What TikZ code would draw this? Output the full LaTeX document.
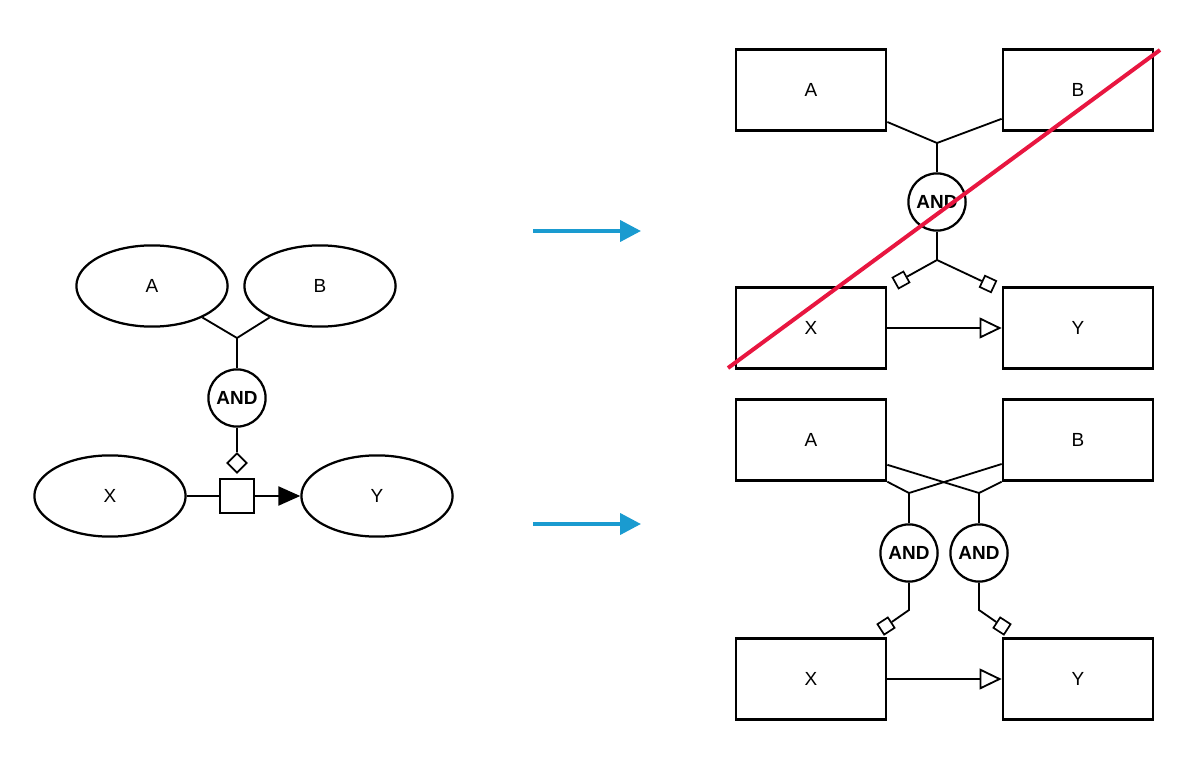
\documentclass[tikz,border=0pt]{standalone}
\usepackage{fontspec}
\setmainfont{Liberation Sans}
\usetikzlibrary{arrows.meta,shapes.geometric}
\definecolor{flowblue}{RGB}{26,155,208}
\definecolor{crossred}{RGB}{232,22,64}

\begin{document}
\begin{tikzpicture}[x=0.025cm, y=-0.025cm, every node/.style={font=\fontsize{13.5}{16}\selectfont},
  ent/.style={draw, ellipse, line width=1.6pt, minimum width=3.78cm, minimum height=2.03cm, inner sep=0pt},
  box/.style={draw, rectangle, line width=1.6pt, minimum width=3.76cm, minimum height=2.03cm},
  andgate/.style={draw, circle, line width=1.6pt, minimum size=1.43cm, inner sep=0pt, font=\fontsize{13.5}{16}\selectfont\bfseries},
  link/.style={line width=1.3pt},
  tinysq/.style={draw, rectangle, line width=1.2pt, fill=white, minimum size=0.31cm, inner sep=0pt},
  flow/.style={line width=0.1cm, flowblue, -{Triangle[length=0.52cm, width=0.52cm]}}]
  \useasboundingbox (0,0) rectangle (1200,767);

  % Left: ellipses
  \node[ent] (A0) at (152,286) {A};
  \node[ent] (B0) at (320,286) {B};
  \node[ent] (X0) at (110,496) {X};
  \node[ent] (Y0) at (377,496) {Y};
  \node[andgate] (and0) at (237,398) {AND};
  \node[draw, diamond, line width=1.2pt, minimum width=0.5cm, minimum height=0.5cm, inner sep=0pt] (dia0) at (237,463) {};
  \node[draw, rectangle, line width=1.6pt, minimum size=0.84cm] (rel0) at (237,496) {};
  \coordinate (j0) at (237,338);

  \draw[link] (A0.-32) -- (j0) -- (B0.-148);
  \draw[link] (j0) -- (and0);
  \draw[link] (and0) -- (dia0);
  \draw[link] (X0) -- (rel0);
  \draw[link, -{Triangle[length=0.55cm, width=0.48cm]}] (rel0) -- (Y0);

  % Blue arrows
  \coordinate (f1s) at (533,231);
  \coordinate (f1e) at (641,231);
  \coordinate (f2s) at (533,524);
  \coordinate (f2e) at (641,524);
  \draw[flow] (f1s) -- (f1e);
  \draw[flow] (f2s) -- (f2e);

  % Top right
  \node[box] (A1) at (811,90) {A};
  \node[box] (B1) at (1078,90) {B};
  \node[box] (X1) at (811,328) {X};
  \node[box] (Y1) at (1078,328) {Y};
  \node[andgate] (and1) at (937,202) {AND};
  \coordinate (j1) at (937,143);
  \coordinate (k1) at (937,260);
  \node[tinysq, rotate=29] (sqa1) at (901,280) {};
  \node[tinysq, rotate=-25] (sqb1) at (988,284) {};

  \draw[link] ([yshift=-0.8cm]A1.east) -- (j1) -- ([yshift=-0.72cm]B1.west);
  \draw[link] (j1) -- (and1);
  \draw[link] (and1) -- (k1);
  \draw[link] (k1) -- (sqa1);
  \draw[link] (k1) -- (sqb1);
  \draw[link, -{Triangle[open, fill=white, length=0.55cm, width=0.52cm]}] (X1) -- (Y1);

  % Cross out
  \coordinate (r1) at (728,368);
  \coordinate (r2) at (1160,50);
  \draw[crossred, line width=0.1cm] (r1) -- (r2);

  % Bottom right
  \node[box] (A2) at (811,440) {A};
  \node[box] (B2) at (1078,440) {B};
  \node[box] (X2) at (811,679) {X};
  \node[box] (Y2) at (1078,679) {Y};
  \node[andgate] (and2) at (909,553) {AND};
  \node[andgate] (and3) at (979,553) {AND};
  \coordinate (j2) at (909,493);
  \coordinate (j3) at (979,493);
  \coordinate (k2) at (909,610);
  \coordinate (k3) at (979,610);
  \node[tinysq, rotate=33] (sqa2) at (886,626) {};
  \node[tinysq, rotate=-33] (sqb2) at (1002,626) {};

  \draw[link] (A2.south east) -- (j2) -- ([yshift=-0.6cm]B2.west);
  \draw[link] ([yshift=-0.62cm]A2.east) -- (j3) -- (B2.south west);
  \draw[link] (j2) -- (and2);
  \draw[link] (j3) -- (and3);
  \draw[link] (and2) -- (k2) -- (sqa2);
  \draw[link] (and3) -- (k3) -- (sqb2);
  \draw[link, -{Triangle[open, fill=white, length=0.55cm, width=0.52cm]}] (X2) -- (Y2);
\end{tikzpicture}
\end{document}
